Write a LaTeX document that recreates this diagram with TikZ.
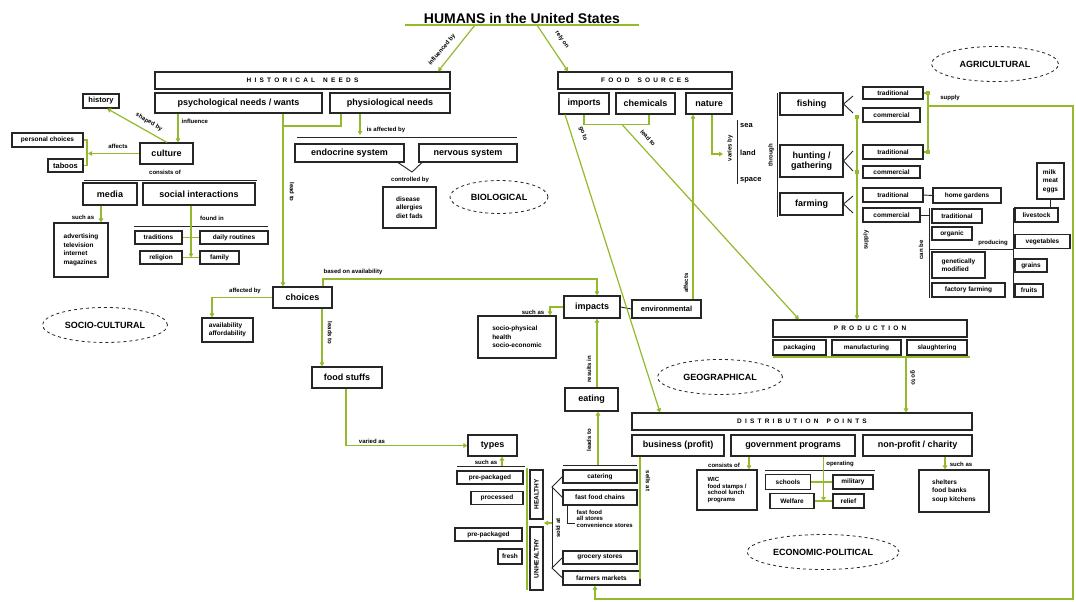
\documentclass[tikz,border=0pt]{standalone}
\usepackage{fontspec}
\setmainfont{Liberation Sans}
\usetikzlibrary{arrows.meta,shapes.geometric}
\definecolor{lg}{RGB}{146,186,44}
\newcommand\ttlf{\fontsize{14}{16}\selectfont\bfseries}
\newcommand\bxf{\fontsize{9}{10}\selectfont\bfseries}
\newcommand\sbxf{\fontsize{7.5}{9}\selectfont\bfseries}
\newcommand\xsf{\fontsize{6.5}{8.5}\selectfont\bfseries}
\newcommand\labf{\fontsize{6}{6.5}\selectfont\bfseries}
\newcommand\hdrf{\fontsize{6.5}{7}\selectfont\bfseries\spaceskip=3.2pt}
\newcommand\ovf{\fontsize{9}{10}\selectfont\bfseries}
\tikzset{
  g/.style={draw=lg, line width=1.2pt},
  ga/.style={g, -{Triangle[length=4pt,width=4.5pt]}},
  bl/.style={draw=black!85, line width=0.9pt},
  box/.style={draw=black!85, line width=1.1pt, fill=white, inner sep=0.5pt, align=center, font=\bxf},
  sbox/.style={box, font=\sbxf},
  hdr/.style={box, font=\hdrf},
  lab/.style={font=\labf, inner sep=0.5pt},
  oval/.style={ellipse, draw=black!85, dashed, line width=0.8pt, inner sep=0pt, font=\ovf},
  plain/.style={font=\sbxf, inner sep=0pt, anchor=west}
}
\begin{document}
\begin{tikzpicture}[x=1pt,y=-1pt]
\fill[white] (0,0) rectangle (1076,602);
\useasboundingbox (0,0) rectangle (1076,602);

% ---------- title
\node[anchor=south, minimum width=233pt, inner sep=1pt, font=\ttlf] (title) at (522,25) {HUMANS in the United States};
\draw[g] (title.south west) -- (title.south east);

% ---------- top headers
\node[hdr, minimum width=295pt, minimum height=17pt] (hist) at (302.5,80.5) {H I S T O R I C A L\hspace{8pt}N E E D S};
\node[box, minimum width=167pt, minimum height=20pt] (psych) at (238.5,103) {psychological needs / wants};
\node[box, minimum width=120pt, minimum height=20pt] (physio) at (390,103) {physiological needs};
\node[hdr, minimum width=174pt, minimum height=17pt] (food) at (645,80.5) {F O O D\hspace{8pt}S O U R C E S};
\node[box, minimum width=50pt, minimum height=21pt] (imports) at (584,103.5) {imports};
\node[box, minimum width=59pt, minimum height=21pt] (chem) at (645.5,103.5) {chemicals};
\node[box, minimum width=46pt, minimum height=21pt] (nature) at (709,103.5) {nature};

% ---------- socio-cultural side
\node[box, minimum width=53pt, minimum height=21pt] (culture) at (166.5,153.5) {culture};
\node[sbox, minimum width=36pt, minimum height=14pt] (history) at (101,101) {history};
\node[sbox, font=\xsf, minimum width=71pt, minimum height=14pt] (pchoice) at (47.5,140) {personal choices};
\node[sbox, minimum width=35pt, minimum height=13pt] (taboos) at (65.5,165.5) {taboos};
\node[box, minimum width=54pt, minimum height=22pt] (media) at (110,194) {media};
\node[box, minimum width=112pt, minimum height=22pt] (social) at (199,194) {social interactions};
\node[sbox, font=\xsf, minimum width=54pt, minimum height=54pt, align=left] (mlist) at (81,250) {advertising\\television\\internet\\magazines};
\node[sbox, font=\xsf, minimum width=47pt, minimum height=13pt] (trad) at (158.5,237.5) {traditions};
\node[sbox, font=\xsf, minimum width=68pt, minimum height=13pt] (daily) at (234,237.5) {daily routines};
\node[sbox, font=\xsf, minimum width=42pt, minimum height=13pt] (religion) at (161,257.5) {religion};
\node[sbox, font=\xsf, minimum width=39pt, minimum height=13pt] (family) at (219.5,257.5) {family};
\node[box, minimum width=59pt, minimum height=21pt] (choices) at (302.5,297.5) {choices};
\node[sbox, font=\xsf, minimum width=51pt, minimum height=24pt, align=left] (avail) at (227.5,330) {availability\\affordability};
\node[box, minimum width=70pt, minimum height=21pt] (fstuff) at (347,377.5) {food stuffs};

% ---------- biological
\node[box, minimum width=109pt, minimum height=18pt] (endo) at (349.5,153) {endocrine system};
\node[box, minimum width=98pt, minimum height=18pt] (nerv) at (468,153) {nervous system};
\node[sbox, font=\xsf, minimum width=53pt, minimum height=41pt, align=left] (dis) at (409.5,207.5) {disease\\allergies\\diet fads};

% ---------- types / stores
\node[box, minimum width=49pt, minimum height=21pt] (types) at (492.5,445.5) {types};
\node[sbox, font=\xsf, minimum width=66pt, minimum height=13pt] (pp1) at (490,477.5) {pre-packaged};
\node[sbox, font=\xsf, minimum width=52pt, minimum height=13pt] (proc) at (497,498) {processed};
\node[sbox, font=\xsf, minimum width=67pt, minimum height=13pt] (pp2) at (488.5,534.5) {pre-packaged};
\node[sbox, font=\xsf, minimum width=24pt, minimum height=15pt] (fresh) at (510,556.5) {fresh};
\node[sbox, font=\xsf, rotate=90, minimum width=49pt, minimum height=13pt] (healthy) at (536.5,494.5) {HEALTHY};
\node[sbox, font=\xsf, rotate=90, minimum width=63pt, minimum height=13pt] (unhealthy) at (536.5,558.5) {UNHEALTHY};
\node[sbox, font=\xsf, minimum width=74pt, minimum height=13pt] (cater) at (600,476.5) {catering};
\node[sbox, font=\xsf, minimum width=74pt, minimum height=15pt] (ffc) at (600,497.5) {fast food chains};
\node[font=\labf, align=left, anchor=north west, inner sep=0.5pt] (ffl) at (576,509) {fast food\\all stores\\convenience stores};
\node[sbox, font=\xsf, minimum width=74pt, minimum height=13pt] (groc) at (600,557.5) {grocery stores};
\node[sbox, font=\xsf, minimum width=77pt, minimum height=14pt] (farm) at (601.5,578) {farmers markets};
\node[box, minimum width=53pt, minimum height=23pt] (eating) at (591.5,399.5) {eating};
\node[box, minimum width=56pt, minimum height=22pt] (impacts) at (592,307) {impacts};
\node[sbox, minimum width=69pt, minimum height=18pt] (env) at (666.5,309) {environmental};
\node[sbox, font=\xsf, minimum width=78pt, minimum height=42pt, align=left] (socio) at (517,337) {socio-physical\\health\\socio-economic};

% ---------- agricultural
\node[plain] (sea) at (740,126) {sea};
\node[plain] (land) at (740,153) {land};
\node[plain] (space) at (740,180) {space};
\node[box, minimum width=63pt, minimum height=22pt] (fishing) at (811.5,104) {fishing};
\node[box, minimum width=63pt, minimum height=32pt] (hunting) at (811.5,161) {hunting /\\gathering};
\node[box, minimum width=63pt, minimum height=22pt] (farming) at (811.5,204) {farming};
\node[sbox, font=\xsf, minimum width=60pt, minimum height=12pt] (ftrad) at (893,93) {traditional};
\node[sbox, font=\xsf, minimum width=57pt, minimum height=14pt] (fcomm) at (891.5,115) {commercial};
\node[sbox, font=\xsf, minimum width=60pt, minimum height=14pt] (htrad) at (893,152) {traditional};
\node[sbox, font=\xsf, minimum width=57pt, minimum height=12pt] (hcomm) at (891.5,172) {commercial};
\node[sbox, font=\xsf, minimum width=60pt, minimum height=14pt] (mtrad) at (893,195) {traditional};
\node[sbox, font=\xsf, minimum width=68pt, minimum height=15pt] (home) at (967,195.5) {home gardens};
\node[sbox, font=\xsf, minimum width=57pt, minimum height=14pt] (mcomm) at (891.5,215) {commercial};
\node[sbox, font=\xsf, minimum width=50pt, minimum height=14pt] (ctrad) at (957,216) {traditional};
\node[sbox, font=\xsf, minimum width=40pt, minimum height=13pt] (organic) at (952,233.5) {organic};
\node[sbox, font=\xsf, minimum width=53pt, minimum height=26pt, align=left] (gm) at (958.5,265) {genetically\\modified};
\node[sbox, font=\xsf, minimum width=73pt, minimum height=14pt] (factory) at (968.5,290) {factory farming};
\node[sbox, font=\xsf, minimum width=43pt, minimum height=14pt] (livestock) at (1036.5,215) {livestock};
\node[sbox, font=\xsf, minimum width=55pt, minimum height=14pt] (veg) at (1042.5,241.5) {vegetables};
\node[sbox, font=\xsf, minimum width=32pt, minimum height=13pt] (grains) at (1031,265.5) {grains};
\node[sbox, font=\xsf, minimum width=28pt, minimum height=13pt] (fruits) at (1029,290.5) {fruits};
\node[sbox, font=\xsf, minimum width=27pt, minimum height=36pt, align=left] (mme) at (1050.5,181) {milk\\meat\\eggs};

% ---------- production / distribution
\node[hdr, minimum width=194pt, minimum height=17pt] (prod) at (870,328.5) {P R O D U C T I O N};
\node[sbox, font=\xsf, minimum width=53pt, minimum height=15pt] (pack) at (799.5,347.5) {packaging};
\node[sbox, font=\xsf, minimum width=69pt, minimum height=15pt] (manu) at (866.5,347.5) {manufacturing};
\node[sbox, font=\xsf, minimum width=60pt, minimum height=15pt] (slau) at (937,347.5) {slaughtering};
\node[hdr, minimum width=340pt, minimum height=17pt] (dist) at (802,421.5) {D I S T R I B U T I O N\hspace{8pt}P O I N T S};
\node[box, minimum width=92pt, minimum height=21pt] (bus) at (678,445.5) {business (profit)};
\node[box, minimum width=124pt, minimum height=21pt] (gov) at (793,445.5) {government programs};
\node[box, minimum width=109pt, minimum height=21pt] (np) at (917.5,445.5) {non-profit / charity};
\node[sbox, font=\labf, minimum width=60pt, minimum height=40pt, align=left] (wic) at (727,490) {WIC\\food stamps /\\school lunch\\programs};
\node[sbox, font=\xsf, minimum width=45pt, minimum height=15pt] (schools) at (788,482) {schools};
\node[sbox, font=\xsf, minimum width=40pt, minimum height=14pt] (military) at (853,482) {military};
\node[sbox, font=\xsf, minimum width=44pt, minimum height=15pt] (welfare) at (792,501) {Welfare};
\node[sbox, font=\xsf, minimum width=31pt, minimum height=14pt] (relief) at (848.5,501) {relief};
\node[sbox, font=\xsf, minimum width=70pt, minimum height=42pt, align=left] (shelt) at (954,491) {shelters\\food banks\\soup kitchens};

% ---------- ovals
\node[oval, minimum width=127pt, minimum height=35pt] (oagr) at (995,64) {AGRICULTURAL};
\node[oval, minimum width=98pt, minimum height=33pt] (obio) at (499,197) {BIOLOGICAL};
\node[oval, minimum width=125pt, minimum height=35pt] (osoc) at (105,325) {SOCIO-CULTURAL};
\node[oval, minimum width=125pt, minimum height=35pt] (ogeo) at (720,377) {GEOGRAPHICAL};
\node[oval, minimum width=152pt, minimum height=35pt] (oeco) at (823,552) {ECONOMIC-POLITICAL};

% ================= connectors
% title
\draw[ga] (title.south -| 475,0) -- (hist.north -| 438,0);
\node[lab, rotate=50] at (442,50) {influenced by};
\draw[ga] (title.south -| 537,0) -- (food.north -| 568,0);
\node[lab, rotate=-55] at (562,40) {rely on};

% culture
\draw[ga] (psych.south -| 178,0) -- (culture.north -| 178,0);
\node[lab, anchor=west] at (181,121) {influence};
\draw[ga] (culture.north -| 167,0) -- (history.south -| 107,0);
\node[lab, rotate=-30] at (149,122) {shaped by};
\draw[g] (pchoice.east) -| (87,153) |- (taboos.east);
\draw[ga] (culture.west) -- (88,153.5);
\node[lab] at (118,146) {affects};
\node[lab] at (165,172) {consists of};
\draw[bl] (84,180) -- (257,180);
\draw[ga] (media.south -| 101,0) -- (mlist.north -| 101,0);
\node[lab] at (83,217) {such as};
\draw[bl] (134,226) -- (268,226);
\draw[g] (trad.east) -- (daily.west);
\draw[g] (religion.east) -- coordinate (rf) (family.west);
\draw[ga] (social.south -| rf) -- (rf);
\node[lab] at (212,218) {found in};

% choices
\draw[ga] (psych.south -| 283,0) -- (choices.north -| 283,0);
\draw[g] (physio.south -| 341,0) |- (283,126);
\node[lab, rotate=-90] at (292,192) {lead to};
\draw[ga] (choices.west) -| (avail.north -| 212,0);
\node[lab] at (245,291) {affected by};
\draw[ga] (choices.south -| 322,0) -- (fstuff.north -| 322,0);
\node[lab, rotate=-90] at (330,333) {leads to};
\draw[ga] (choices.north -| 323,0) |- (597,279) -- (impacts.north -| 597,0);
\node[lab, anchor=west] at (323,272) {based on availability};

% biological
\draw[ga] (physio.south -| 360,0) -- (360,135);
\draw[bl] (297,137) -- (517,137);
\node[lab] at (386,130) {is affected by};
\coordinate (v) at (412,172);
\draw[bl] (endo.south -| 398,0) -- (v) -- (nerv.south -| 422,0);
\node[lab] at (410,180) {controlled by};

% food stuffs -> types
\draw[ga] (fstuff.south -| 346,0) |- (types.west);
\node[lab] at (372,441) {varied as};
\draw[bl] (457,466) -- (525,466);
\node[lab] at (486,462) {such as};
\draw[ga] (502,466) -- (types.south -| 502,0);
\draw[g] (527,468) -- (527,590);

% stores
\draw[bl] (cater.west) -- (552,487) -- (ffc.west);
\draw[bl] (552,487) -- (552,568);
\draw[bl] (groc.west) -- (552,568) -- (farm.west);
\draw[bl] (ffc.south -| 567,0) |- (575,523);
\draw[ga] (552,523) -- (544,523);
\node[lab, rotate=90] at (558,528) {sold at};
\draw[bl] (563,465) -- (637,465);
\draw[ga] (598,465) -- (eating.south -| 598,0);
\node[lab, rotate=90] at (589,440) {leads to};
\draw[ga] (eating.north -| 597,0) -- (impacts.south -| 597,0);
\node[lab, rotate=90] at (589,369) {results in};
\draw[bl] (impacts.east) -- (env.west);
\draw[ga] (env.north -| 693,0) -- (nature.south -| 693,0);
\node[lab, rotate=90] at (686,283) {affects};
\draw[ga] (impacts.west) -| (socio.north -| 550,0);
\node[lab] at (533,312) {such as};

% food sources
\draw[g] (imports.south) -- ++(0,10) -| (chem.south -| 649,0);
\draw[ga] (622,124.5) -- (prod.north -| 799,0);
\node[lab, rotate=-48] at (648,138) {lead to};
\draw[ga] (imports.south -| 565,0) -- (dist.north -| 660,0);
\node[lab, rotate=-72] at (583,134) {go to};
\draw[ga] (nature.south -| 712,0) |- (723,154);
\node[lab, rotate=90] at (730,148) {varies by};
\draw[bl] (737,120) -- (737,184);
\node[lab, rotate=90] at (771,155) {through};
\draw[bl] (777,93) -- (777,217);

% agriculture forks
\draw[bl] (853,96) -- (fishing.east) -- (853,113);
\draw[bl] (853,151) -- (hunting.east) -- (853,171);
\draw[bl] (853,196) -- (farming.east) -- (853,213);
\draw[ga] (857,116) -- (prod.north -| 857,0);
\fill[lg] (855,114.5) rectangle +(4,4);
\fill[lg] (855,170) rectangle +(4,4);
\node[lab, rotate=90] at (866,240) {supply};
\draw[bl] (mtrad.east) -- (home.west);
\draw[g] (ftrad.east) -| (928,152) -- (htrad.east);
\fill[lg] (926,91) rectangle +(4,4);
\fill[lg] (926,150) rectangle +(4,4);
\draw[ga] (928,106) -- (1073,106) -- (1073,599) -| (farm.south -| 595,0);
\node[lab] at (950,98) {supply};
\draw[bl] (mcomm.east) -- (929,215);
\draw[bl] (929,208) -- (929,298);
\node[lab, rotate=90] at (921,250) {can be};
\node[lab] at (993,243) {producing};
\draw[bl] (929,249) -- (1013,249);
\draw[bl] (1013,208) -- (1013,298);
\draw[bl] (mme.south) -- (livestock.north -| mme.south);

% production / distribution
\draw[g] (773,357) -- (970,357);
\draw[ga] (906,357) -- (dist.north -| 906,0);
\node[lab, rotate=-90] at (913,378) {go to};
\draw[g] (bus.south -| 640,0) -- (640,578) -- (farm.east);
\node[lab, rotate=-90] at (648,481) {sells at};
\draw[ga] (gov.south -| 749,0) -- (wic.north -| 749,0);
\node[lab] at (724,465) {consists of};
\draw[bl] (765,470) -- (875,470);
\node[lab] at (840,464) {operating};
\draw[g] (schools.east) -- (military.west);
\draw[g] (welfare.east) -- coordinate (wr) (relief.west);
\draw[ga] (gov.south -| wr) -- (wr);
\draw[ga] (np.south -| 945,0) -- (shelt.north -| 945,0);
\node[lab] at (961,464) {such as};
\end{tikzpicture}
\end{document}
